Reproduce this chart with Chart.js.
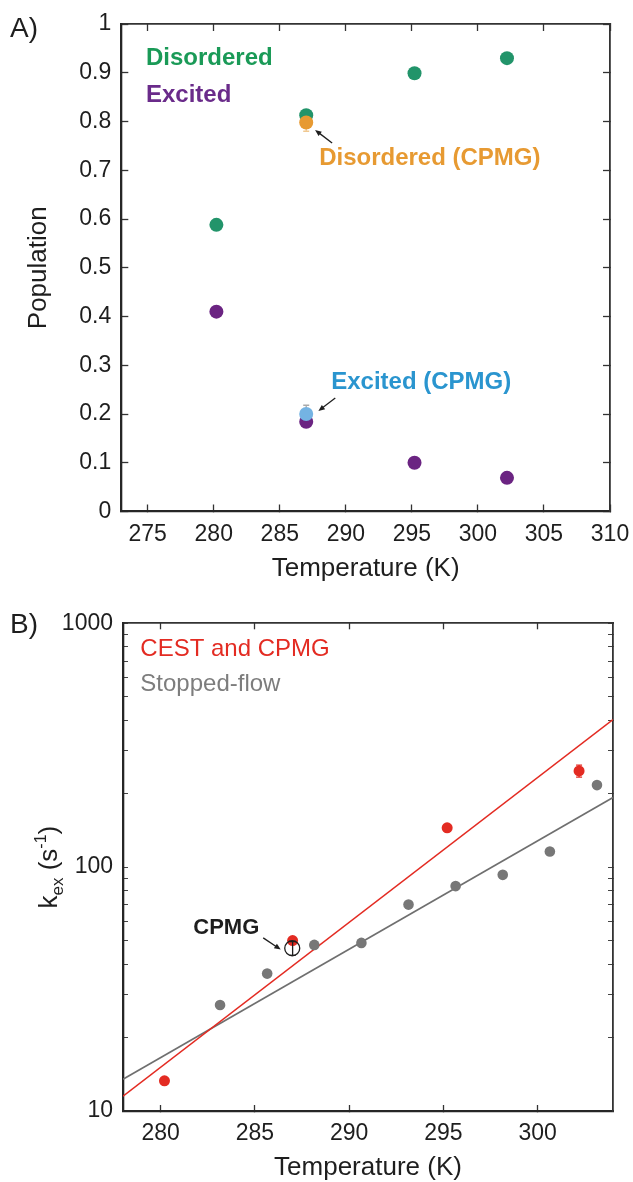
<!DOCTYPE html>
<html>
<head>
<meta charset="utf-8">
<script src="https://cdn.jsdelivr.net/npm/chart.js@4.4.1/dist/chart.umd.min.js"></script>
<style>
  html, body { margin: 0; padding: 0; background: #fff; }
  canvas { position: absolute; left: 0; }
  #chartA { top: 0; }
  #chartB { top: 600px; }
</style>
</head>
<body>
<canvas id="chartA" width="633" height="600"></canvas>
<canvas id="chartB" width="633" height="582"></canvas>
<script>
/* ---------- panel A : populations ---------- */
const tempA = [280.2, 287.0, 295.2, 302.2];
const disordered = [0.588, 0.813, 0.899, 0.930];
const excited = [0.410, 0.184, 0.100, 0.069];
const tempCpmgA = [287.0];
const disorderedCpmg = [0.798];
const disorderedCpmgErr = [0.018];
const excitedCpmg = [0.200];
const excitedCpmgErr = [0.018];
const xTicksA = [275, 280, 285, 290, 295, 300, 305, 310];
const yTicksA = [0, 0.1, 0.2, 0.3, 0.4, 0.5, 0.6, 0.7, 0.8, 0.9, 1];

/* ---------- panel B : kex ---------- */
const tempCest = [280.2, 287.0, 295.2, 302.2];
const kexCest = [13.3, 50, 145, 248];
const kexCestErr = [0.4, 1.5, 4, 14];
const tempSf = [283.15, 285.65, 288.15, 290.65, 293.15, 295.65, 298.15, 300.65, 303.15];
const kexSf = [27.2, 36.6, 48.0, 48.9, 70.2, 83.6, 93, 116, 217];
const tempCpmgB = [287.0];
const kexCpmg = [46.5];
const kexCpmgErr = [3];
const fitT = [278, 304];
const fitCest = [11.5, 403];
const fitSf = [13.5, 193];
const xTicksB = [280, 285, 290, 295, 300];
const yTicksB = [10, 20, 30, 40, 50, 60, 70, 80, 90, 100, 200, 300, 400, 500, 600, 700, 800, 900, 1000];
const yLabelsB = [10, 100, 1000];

/* colours */
const GREEN = '#1a9a57', GREEN_DOT = '#22946a';
const PURPLE = '#6a2b8a', PURPLE_DOT = '#6b2482';
const ORANGE = '#e79a32';
const BLUE = '#2a95cf', BLUE_DOT = '#74b3e3';
const RED = '#e32b22';
const GRAY = '#7d7d7d', GRAY_DOT = '#777777', GRAY_LINE = '#6f6f6f';
const INK = '#1e1e1e';
const FONT = "'Liberation Sans', Arial, sans-serif";

const pts = (xs, ys) => xs.map((x, i) => ({ x, y: ys[i] }));

/* text notes and arrows, anchored in data units */
const notesA = [
  { text: 'Disordered', x: 274.87, y: 0.916, color: GREEN, weight: 'bold', size: 24 },
  { text: 'Excited', x: 274.87, y: 0.841, color: PURPLE, weight: 'bold', size: 24 },
  { text: 'Disordered (CPMG)', x: 287.98, y: 0.711, color: ORANGE, weight: 'bold', size: 24 },
  { text: 'Excited (CPMG)', x: 288.89, y: 0.251, color: BLUE, weight: 'bold', size: 24 }
];
const arrowsA = [
  { from: [288.96, 0.756], to: [287.67, 0.7826] },
  { from: [289.2, 0.2328], to: [287.92, 0.2062] }
];
const notesB = [
  { text: 'CEST and CPMG', x: 278.92, y: 733, color: RED, weight: 'normal', size: 24 },
  { text: 'Stopped-flow', x: 278.92, y: 527, color: GRAY, weight: 'normal', size: 24 },
  { text: 'CPMG', x: 281.73, y: 53.2, color: INK, weight: 'bold', size: 22 }
];
const arrowsB = [
  { from: [285.44, 51.3], to: [286.37, 45.9] }
];
const circlesB = [{ x: 286.98, y: 46.5, r: 7.5 }];

/* ---------- plugins ---------- */
function drawErrors(chart, onTop) {
  const ctx = chart.ctx;
  chart.data.datasets.forEach((ds, i) => {
    if (!ds.errors || !!ds.errorOnTop !== onTop) return;
    const meta = chart.getDatasetMeta(i);
    const xs = chart.scales[meta.xAxisID], ys = chart.scales[meta.yAxisID];
    ctx.save();
    ctx.strokeStyle = ds.errorColor;
    ctx.lineWidth = 1.3;
    ds.data.forEach((p, j) => {
      const e = ds.errors[j];
      const x = xs.getPixelForValue(p.x);
      const y0 = ys.getPixelForValue(p.y - e), y1 = ys.getPixelForValue(p.y + e);
      ctx.beginPath();
      ctx.moveTo(x, y0); ctx.lineTo(x, y1);
      ctx.moveTo(x - 3, y0); ctx.lineTo(x + 3, y0);
      ctx.moveTo(x - 3, y1); ctx.lineTo(x + 3, y1);
      ctx.stroke();
    });
    ctx.restore();
  });
}

const errorBars = {
  id: 'errorBars',
  beforeDatasetsDraw(chart) { drawErrors(chart, false); },
  afterDatasetsDraw(chart) { drawErrors(chart, true); }
};

function arrow(ctx, x0, y0, x1, y1) {
  const a = Math.atan2(y1 - y0, x1 - x0), h = 7;
  ctx.beginPath();
  ctx.moveTo(x0, y0);
  ctx.lineTo(x1 - Math.cos(a) * h * 0.8, y1 - Math.sin(a) * h * 0.8);
  ctx.stroke();
  ctx.beginPath();
  ctx.moveTo(x1, y1);
  ctx.lineTo(x1 - h * Math.cos(a - 0.4), y1 - h * Math.sin(a - 0.4));
  ctx.lineTo(x1 - h * Math.cos(a + 0.4), y1 - h * Math.sin(a + 0.4));
  ctx.closePath();
  ctx.fill();
}

const notes = {
  id: 'notes',
  afterDraw(chart, args, opts) {
    const ctx = chart.ctx, xs = chart.scales.x, ys = chart.scales.y;
    ctx.save();
    ctx.textBaseline = 'alphabetic';
    ctx.textAlign = 'left';
    (opts.texts || []).forEach(n => {
      ctx.font = n.weight + ' ' + n.size + 'px ' + FONT;
      ctx.fillStyle = n.color;
      ctx.fillText(n.text, xs.getPixelForValue(n.x), ys.getPixelForValue(n.y));
    });
    ctx.strokeStyle = INK;
    ctx.fillStyle = INK;
    ctx.lineWidth = 1.3;
    (opts.arrows || []).forEach(a => {
      arrow(ctx, xs.getPixelForValue(a.from[0]), ys.getPixelForValue(a.from[1]),
        xs.getPixelForValue(a.to[0]), ys.getPixelForValue(a.to[1]));
    });
    (opts.circles || []).forEach(c => {
      ctx.beginPath();
      ctx.arc(xs.getPixelForValue(c.x), ys.getPixelForValue(c.y), c.r, 0, Math.PI * 2);
      ctx.stroke();
    });
    // panel letter
    ctx.font = 'normal 28px ' + FONT;
    ctx.fillStyle = INK;
    ctx.fillText(opts.letter, 10, opts.letterY);
    ctx.restore();
  }
};

// y title of panel B with sub/superscript
const kexTitle = {
  id: 'kexTitle',
  afterDraw(chart, args, opts) {
    if (!opts.on) return;
    const ctx = chart.ctx, area = chart.chartArea;
    const parts = [
      { t: 'k', s: 26, dy: 0 },
      { t: 'ex', s: 17, dy: 6 },
      { t: ' (s', s: 26, dy: 0 },
      { t: '-1', s: 16, dy: -11 },
      { t: ')', s: 26, dy: 0 }
    ];
    ctx.save();
    let total = 0;
    parts.forEach(p => { ctx.font = p.s + 'px ' + FONT; p.w = ctx.measureText(p.t).width; total += p.w; });
    ctx.translate(57, (area.top + area.bottom) / 2);
    ctx.rotate(-Math.PI / 2);
    ctx.fillStyle = INK;
    ctx.textBaseline = 'alphabetic';
    let x = -total / 2;
    parts.forEach(p => {
      ctx.font = p.s + 'px ' + FONT;
      ctx.fillText(p.t, x, p.dy);
      x += p.w;
    });
    ctx.restore();
  }
};

Chart.register(errorBars, notes, kexTitle);
Chart.defaults.font.family = FONT;
Chart.defaults.color = INK;

const tickFont = { size: 23, lineHeight: 1.2 };
const titleFont = { size: 26, lineHeight: 1 };

// fixed box sizes, and no extra room reserved for overhanging labels
const fixH = h => s => { s.height = h; s.paddingLeft = 0; s.paddingRight = 0; };
const fixW = w => s => { s.width = w; s.paddingTop = 0; s.paddingBottom = 0; };

function frameAxis(extra) {
  return Object.assign({
    border: { display: true, color: '#333', width: 1.8 },
    grid: { drawOnChartArea: false, drawTicks: true, tickLength: -7, tickColor: '#333', tickWidth: 1.3 }
  }, extra);
}

/* ---------- chart A ---------- */
new Chart(document.getElementById('chartA'), {
  type: 'scatter',
  data: {
    datasets: [
      { label: 'Disordered (CPMG)', data: pts(tempCpmgA, disorderedCpmg), backgroundColor: ORANGE,
        pointRadius: 7, borderWidth: 0, errors: disorderedCpmgErr, errorColor: '#f0c890' },
      { label: 'Excited (CPMG)', data: pts(tempCpmgA, excitedCpmg), backgroundColor: BLUE_DOT,
        pointRadius: 7, borderWidth: 0, errors: excitedCpmgErr, errorColor: '#a9a9a9' },
      { label: 'Disordered', data: pts(tempA, disordered), backgroundColor: GREEN_DOT,
        pointRadius: 7, borderWidth: 0 },
      { label: 'Excited', data: pts(tempA, excited), backgroundColor: PURPLE_DOT,
        pointRadius: 7, borderWidth: 0 }
    ]
  },
  options: {
    responsive: false,
    animation: false,
    layout: { padding: { left: 0, top: 14, right: 13, bottom: 8.5 } },
    plugins: {
      legend: { display: false },
      tooltip: { enabled: false },
      notes: { texts: notesA, arrows: arrowsA, letter: 'A)', letterY: 37 },
      kexTitle: { on: false }
    },
    scales: {
      x: frameAxis({
        type: 'linear', position: 'bottom', min: 273, max: 310,
        border: { display: true, color: '#262626', width: 2.3 },
        afterBuildTicks: s => { s.ticks = xTicksA.map(v => ({ value: v })); },
        afterFit: fixH(80),
        ticks: { font: tickFont, padding: 16, maxRotation: 0, autoSkip: false, color: INK },
        title: { display: true, text: 'Temperature (K)', font: titleFont, padding: { top: 0, bottom: 9.5 }, color: INK }
      }),
      x2: frameAxis({
        type: 'linear', position: 'top', min: 273, max: 310,
        afterBuildTicks: s => { s.ticks = xTicksA.map(v => ({ value: v })); },
        afterFit: fixH(10),
        ticks: { display: false }
      }),
      y: frameAxis({
        type: 'linear', position: 'left', min: 0, max: 1,
        border: { display: true, color: '#262626', width: 2.3 },
        afterBuildTicks: s => { s.ticks = yTicksA.map(v => ({ value: v })); },
        afterFit: fixW(121.3),
        ticks: { font: tickFont, padding: 17, autoSkip: false, color: INK,
          callback: v => String(+v.toFixed(2)) },
        title: { display: true, text: 'Population', font: titleFont, padding: { top: 25.5, bottom: 0 }, color: INK }
      }),
      y2: frameAxis({
        type: 'linear', position: 'right', min: 0, max: 1,
        afterBuildTicks: s => { s.ticks = yTicksA.map(v => ({ value: v })); },
        afterFit: fixW(10),
        ticks: { display: false }
      })
    }
  }
});

/* ---------- chart B ---------- */
function logAxis(extra) {
  return frameAxis(Object.assign({
    type: 'logarithmic', min: 10, max: 1000,
    afterBuildTicks: s => { s.ticks = yTicksB.map(v => ({ value: v })); }
  }, extra));
}

new Chart(document.getElementById('chartB'), {
  type: 'scatter',
  data: {
    datasets: [
      { label: 'CPMG', data: pts(tempCpmgB, kexCpmg), pointRadius: 0, borderWidth: 0,
        errors: kexCpmgErr, errorColor: INK, errorOnTop: true },
      { label: 'CEST and CPMG', data: pts(tempCest, kexCest), backgroundColor: RED,
        pointRadius: 5.5, borderWidth: 0, errors: kexCestErr, errorColor: RED },
      { label: 'Stopped-flow', data: pts(tempSf, kexSf), backgroundColor: GRAY_DOT,
        pointRadius: 5.3, borderWidth: 0 },
      { label: 'fit CEST', data: pts(fitT, fitCest), showLine: true, borderColor: RED,
        borderWidth: 1.6, pointRadius: 0, fill: false },
      { label: 'fit stopped-flow', data: pts(fitT, fitSf), showLine: true, borderColor: GRAY_LINE,
        borderWidth: 1.6, pointRadius: 0, fill: false }
    ]
  },
  options: {
    responsive: false,
    animation: false,
    layout: { padding: { left: 0, top: 13.3, right: 10, bottom: 0 } },
    plugins: {
      legend: { display: false },
      tooltip: { enabled: false },
      notes: { texts: notesB, arrows: arrowsB, circles: circlesB, letter: 'B)', letterY: 33 },
      kexTitle: { on: true }
    },
    scales: {
      x: frameAxis({
        type: 'linear', position: 'bottom', min: 278, max: 304,
        border: { display: true, color: '#262626', width: 2.3 },
        grid: { drawOnChartArea: false, tickLength: -6, tickColor: '#333', tickWidth: 1.3 },
        afterBuildTicks: s => { s.ticks = xTicksB.map(v => ({ value: v })); },
        afterFit: fixH(71),
        ticks: { font: tickFont, padding: 14.5, maxRotation: 0, autoSkip: false, color: INK },
        title: { display: true, text: 'Temperature (K)', font: titleFont, padding: { top: 0, bottom: 0.7 }, color: INK }
      }),
      x2: frameAxis({
        type: 'linear', position: 'top', min: 278, max: 304,
        grid: { drawOnChartArea: false, tickLength: -6, tickColor: '#333', tickWidth: 1.3 },
        afterBuildTicks: s => { s.ticks = xTicksB.map(v => ({ value: v })); },
        afterFit: fixH(10),
        ticks: { display: false }
      }),
      y: logAxis({
        position: 'left',
        border: { display: true, color: '#262626', width: 2.3 },
        grid: { drawOnChartArea: false, tickLength: -5, tickColor: '#444', tickWidth: 1 },
        afterFit: fixW(123),
        ticks: { font: tickFont, padding: 15, autoSkip: false, color: INK,
          callback: v => (yLabelsB.includes(v) ? String(v) : '') }
      }),
      y2: logAxis({
        position: 'right',
        grid: { drawOnChartArea: false, tickLength: -5, tickColor: '#444', tickWidth: 1 },
        afterFit: fixW(10),
        ticks: { display: false }
      })
    }
  }
});
</script>
</body>
</html>
